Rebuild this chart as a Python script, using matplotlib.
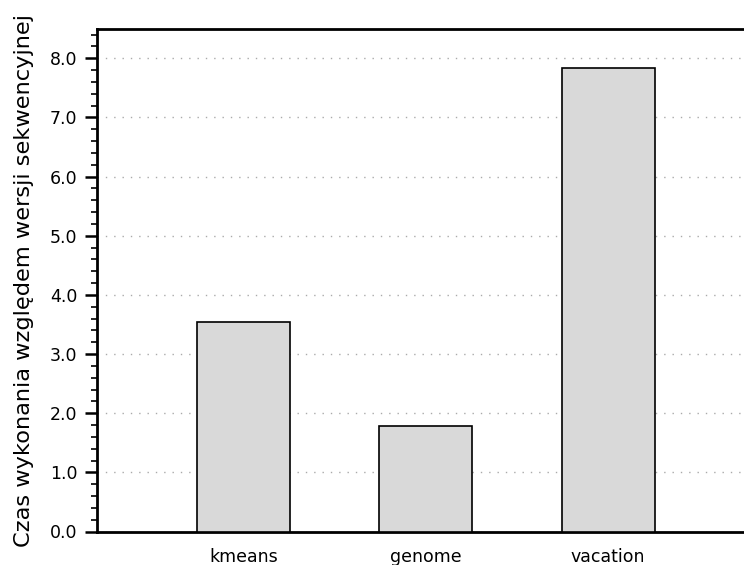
import matplotlib
matplotlib.use("Agg")
import matplotlib.pyplot as plt
from matplotlib.ticker import MultipleLocator, FormatStrFormatter

# dane
benchmarks = ["kmeans", "genome", "vacation"]
speedup = [3.54, 1.78, 7.84]
ylabel = "Czas wykonania względem wersji sekwencyjnej"

W, H = 744, 565
fig = plt.figure(figsize=(W / 100, H / 100), dpi=100)

# os wychodzi poza prawa krawedz obrazka (tak jak w oryginale)
left, right, top, bottom = 97, 754, 28.7, 531.5
ax = fig.add_axes([left / W, (H - bottom) / H, (right - left) / W, (bottom - top) / H])

x = range(len(benchmarks))
ax.bar(x, speedup, width=0.51, color="#d9d9d9", edgecolor="black", linewidth=1.2, zorder=3)

ax.set_xlim(-0.805, 2.8)
ax.set_ylim(0, 8.5)
ax.set_xticks(list(x))
ax.set_xticklabels(benchmarks, fontsize=12.5, family="DejaVu Sans")
ax.tick_params(axis="x", length=0, pad=12)

ax.yaxis.set_major_locator(MultipleLocator(1.0))
ax.yaxis.set_minor_locator(MultipleLocator(0.2))
ax.yaxis.set_major_formatter(FormatStrFormatter("%.1f"))
ax.tick_params(axis="y", which="major", direction="out", length=9, width=1.8, labelsize=12.5, pad=5)
ax.tick_params(axis="y", which="minor", direction="out", length=4, width=1.2)
for lab in ax.get_yticklabels():
    lab.set_family("DejaVu Sans")

ax.grid(axis="y", which="major", linestyle=(0, (1, 5)), color="#aaaaaa", linewidth=1, zorder=0)

for s in ax.spines.values():
    s.set_linewidth(2)
ax.spines["right"].set_visible(False)

ax.set_ylabel(ylabel, fontsize=16.2, family="DejaVu Sans")
ax.yaxis.set_label_coords(-63 / (right - left), 0.5)

fig.savefig("out.png", dpi=100)
